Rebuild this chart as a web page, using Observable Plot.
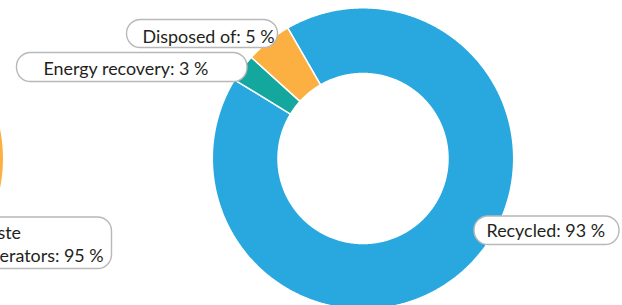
<!DOCTYPE html>
<html><head><meta charset="utf-8">
<script src="https://cdn.jsdelivr.net/npm/d3@7"></script>
<script src="https://cdn.jsdelivr.net/npm/@observablehq/plot@0.6"></script>
<style>html,body{margin:0;padding:0;overflow:hidden;background:#fff}</style>
</head><body><div id="chart"></div>
<script>
// ---- data ----
const rightCategories = ["Recycled", "Energy recovery", "Disposed of"];
const rightValues = [93, 3, 5];
const leftCategories = ["Waste generators", "Other"];
const leftValues = [95, 5];

// ---- styles ----
const colorDomain = ["Recycled", "Energy recovery", "Disposed of", "Waste generators", "Other"];
const colorRange = ["#29a8e0", "#14a79d", "#fbb041", "#fbb041", "#29a8e0"];
const FONT = "Lato", FONT_SIZE = 17.9;

// ---- layout ----
const W = 622, H = 305;
const R_OUT = 150.7, R_IN = 85;
const donuts = [
  {cx: 362.5, cy: 158, categories: rightCategories, values: rightValues, start: -30},
  {cx: -147.5, cy: 158, categories: leftCategories, values: leftValues, start: -30}
];
// label boxes and text anchors (text start x, last-line baseline y)
const labelLayout = {
  "Recycled": {x1: 474, x2: 619, y1: 216, y2: 244.5, tx: 486, ty: 236.5, wrap: false},
  "Disposed of": {x1: 126.5, x2: 277.5, y1: 19.5, y2: 47.5, tx: 142, ty: 42.3, wrap: false},
  "Energy recovery": {x1: 16.5, x2: 247, y1: 52.5, y2: 81.5, tx: 43, ty: 74, wrap: false},
  "Waste generators": {x1: -60, x2: 111.5, y1: 217, y2: 268.5, tx: -29.5, ty: 261.3, wrap: true}
};

// ---- build slice polygons from the data ----
const arcs = [];
const labels = [];
donuts.forEach((dn, di) => {
  const data = dn.categories.map((c, i) => ({name: c, value: dn.values[i]}));
  const a0 = dn.start * Math.PI / 180;
  const pie = d3.pie().sort(null).value(d => d.value).startAngle(a0).endAngle(a0 + 2 * Math.PI);
  pie(data).forEach(s => {
    const id = di + "-" + s.data.name;
    const n = Math.max(2, Math.ceil((s.endAngle - s.startAngle) / (Math.PI / 360)));
    for (let k = 0; k <= n; k++) {
      const a = s.startAngle + (s.endAngle - s.startAngle) * k / n;
      arcs.push({id, name: s.data.name, x: dn.cx + R_OUT * Math.sin(a), y: dn.cy - R_OUT * Math.cos(a)});
    }
    for (let k = n; k >= 0; k--) {
      const a = s.startAngle + (s.endAngle - s.startAngle) * k / n;
      arcs.push({id, name: s.data.name, x: dn.cx + R_IN * Math.sin(a), y: dn.cy - R_IN * Math.cos(a)});
    }
    const L = labelLayout[s.data.name];
    if (L) {
      let name = s.data.name;
      if (L.wrap) name = name.replace(" ", "\n");
      labels.push({...L, text: `${name}: ${s.data.value} %`});
    }
  });
});

const chart = Plot.plot({
  width: W, height: H, margin: 0,
  x: {domain: [0, W], range: [0, W], axis: null},
  y: {domain: [0, H], range: [0, H], axis: null},
  color: {domain: colorDomain, range: colorRange},
  style: {background: "white"},
  marks: [
    Plot.line(arcs, {x: "x", y: "y", z: "id", fill: "name", stroke: "white", strokeWidth: 1.5, curve: "linear-closed"}),
    Plot.rect(labels, {x1: "x1", x2: "x2", y1: "y1", y2: "y2", rx: 14, fill: "white", stroke: "#b8b8b8", strokeWidth: 1.4}),
    Plot.text(labels, {x: "tx", y: "ty", text: "text", textAnchor: "start", lineAnchor: "bottom", lineHeight: 1.3,
      fontSize: FONT_SIZE, fontFamily: FONT, fill: "#231f20"})
  ]
});
document.getElementById("chart").appendChild(chart);
</script>
</body></html>
